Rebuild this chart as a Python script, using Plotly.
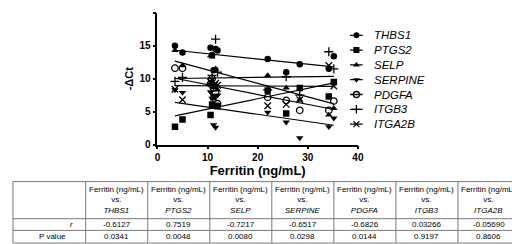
import plotly.graph_objects as go

genes = ["THBS1", "PTGS2", "SELP", "SERPINE", "PDGFA", "ITGB3", "ITGA2B"]
symbols = ["circle", "square", "triangle-up", "triangle-down", "circle-open", "cross-thin", "x-thin"]

ferritin = [3.5, 5.0, 10.6, 10.9, 11.2, 11.6, 12.0, 22.0, 25.7, 28.4, 34.2, 35.2]

thbs1 = [15.0, 14.0, 14.7, 13.6, 11.3, 14.5, 14.3, 13.0, 11.0, 12.2, 11.5, 13.4]
ptgs2 = [2.7, 3.8, 4.5, 6.1, 7.2, 5.9, 5.8, 8.2, 4.7, 8.6, 7.3, 9.5]
selp = [14.3, 12.0, 13.5, 13.3, 8.7, 11.5, 8.3, 10.5, 8.6, 6.8, 4.5, 5.5]
serpine = [8.3, 7.9, 8.0, 7.0, 3.0, 2.6, 7.5, 4.9, 3.4, 1.0, 2.7, 4.0]
pdgfa = [11.6, 11.6, 9.2, 10.0, 8.6, 8.0, 6.2, 7.2, 6.7, 5.2, 5.2, 6.6]
itgb3 = [9.6, 10.2, 9.0, 10.5, 9.4, 16.0, 11.0, 8.3, 10.3, 7.5, 14.1, 11.5]
itga2b = [8.4, 6.8, 9.5, 9.8, 8.9, 9.3, 9.0, 5.9, 6.1, 6.8, 12.0, 8.9]
series = [thbs1, ptgs2, selp, serpine, pdgfa, itgb3, itga2b]

# linear regression fits (intercept, slope)
fit_intercept = [14.6, 3.8, 13.4, 6.8, 10.6, 10.0, 8.95]
fit_slope = [-0.08, 0.158, -0.205, -0.11, -0.15, 0.01, -0.003]

row_labels = ["<i>r</i>", "P value"]
r_values = ["-0.6127", "0.7519", "-0.7217", "-0.6517", "-0.6826", "0.03266", "-0.05690"]
p_values = ["0.0341", "0.0048", "0.0080", "0.0298", "0.0144", "0.9197", "0.8606"]

W, H = 520, 244


def px(x):
    return x / W


def py(y):
    return 1 - y / H


def mline(sym):
    return dict(color="black", width=1.3 if ("thin" in sym or "open" in sym) else 0)


fig = go.Figure()
xmin, xmax = min(ferritin), max(ferritin)
for g, sym, ys, b0, b1 in zip(genes, symbols, series, fit_intercept, fit_slope):
    fig.add_trace(go.Scatter(
        x=[xmin, xmax], y=[b0 + b1 * xmin, b0 + b1 * xmax], mode="lines",
        showlegend=False, line=dict(color="black", width=1.2), hoverinfo="skip",
    ))
    fig.add_trace(go.Scatter(
        x=ferritin, y=ys, mode="markers", showlegend=False, name=g,
        marker=dict(symbol=sym, size=6.5, color="black", line=mline(sym)),
    ))

# manual legend on its own small axes (one row per gene)
for i, (g, sym) in enumerate(zip(genes, symbols)):
    fig.add_trace(go.Scatter(
        x=[0, 1], y=[i, i], mode="lines", xaxis="x2", yaxis="y2", showlegend=False,
        line=dict(color="black", width=1.3), hoverinfo="skip",
    ))
    fig.add_trace(go.Scatter(
        x=[0.5], y=[i], mode="markers", xaxis="x2", yaxis="y2", showlegend=False,
        marker=dict(symbol=sym, size=6, color="black", line=mline(sym)), hoverinfo="skip",
    ))

annotations = []
for i, g in enumerate(genes):
    annotations.append(dict(x=px(367), y=i, xref="paper", yref="y2", text="<i>%s</i>" % g,
                            showarrow=False, xanchor="left", yanchor="middle",
                            font=dict(family="Arial, Liberation Sans", size=11.5, color="black")))

# table drawn with lines and text
t_top, t_head, t_r, t_bot = 178, 216, 228, 241
col_edges = [2, 76] + [76 + 63.14 * (k + 1) for k in range(7)]
shapes = []
for yy in [t_top, t_head, t_r, t_bot]:
    shapes.append(dict(type="line", xref="paper", yref="paper", x0=px(col_edges[0]), x1=px(col_edges[-1]),
                       y0=py(yy), y1=py(yy), line=dict(color="#7a7a7a", width=1)))
for xx in col_edges:
    shapes.append(dict(type="line", xref="paper", yref="paper", x0=px(xx), x1=px(xx),
                       y0=py(t_top), y1=py(t_bot), line=dict(color="#7a7a7a", width=1)))

tfont = dict(family="Liberation Sans Narrow, Liberation Sans, Arial", size=8, color="black")
for k, g in enumerate(genes):
    cx = (col_edges[k + 1] + col_edges[k + 2]) / 2
    annotations.append(dict(x=px(cx), y=py((t_top + t_head) / 2), xref="paper", yref="paper",
                            text="Ferritin (ng/mL)<br>vs.<br><i>%s</i>" % g, showarrow=False,
                            align="center", xanchor="center", yanchor="middle", font=tfont))
    annotations.append(dict(x=px(cx), y=py((t_head + t_r) / 2), xref="paper", yref="paper",
                            text=r_values[k], showarrow=False, xanchor="center", yanchor="middle", font=tfont))
    annotations.append(dict(x=px(cx), y=py((t_r + t_bot) / 2), xref="paper", yref="paper",
                            text=p_values[k], showarrow=False, xanchor="center", yanchor="middle", font=tfont))
annotations.append(dict(x=px(62), y=py((t_head + t_r) / 2), xref="paper", yref="paper",
                        text=row_labels[0], showarrow=False, xanchor="center", yanchor="middle", font=tfont))
annotations.append(dict(x=px(42), y=py((t_r + t_bot) / 2), xref="paper", yref="paper",
                        text=row_labels[1], showarrow=False, xanchor="center", yanchor="middle",
                        font=dict(family="Arial, Liberation Sans", size=8, color="black")))

fig.update_layout(
    width=W, height=H, margin=dict(l=0, r=0, t=0, b=0),
    plot_bgcolor="white", paper_bgcolor="white", showlegend=False,
    font=dict(family="Arial, Liberation Sans", color="black"),
    xaxis=dict(domain=[px(149), px(353)], range=[0, 40], tickvals=[0, 10, 20, 30, 40],
               showline=True, linecolor="black", linewidth=1.5, ticks="outside", ticklen=3,
               tickwidth=1.5, tickcolor="black", showgrid=False, zeroline=False,
               tickfont=dict(size=10, weight="bold"),
               title=dict(text="<b>Ferritin (ng/mL)</b>", font=dict(size=13), standoff=0)),
    yaxis=dict(domain=[py(140), py(5)], range=[0, 20], tickvals=[0, 5, 10, 15, 20],
               showline=True, linecolor="black", linewidth=1.5, ticks="outside", ticklen=3,
               tickwidth=1.5, tickcolor="black", showgrid=False, zeroline=False,
               tickfont=dict(size=10, weight="bold"),
               title=dict(text="<b>-ΔCt</b>", font=dict(size=11), standoff=4)),
    xaxis2=dict(domain=[px(345), px(358)], range=[0, 1], visible=False, anchor="y2"),
    yaxis2=dict(domain=[py(28 + 15.17 * 6.5), py(28 - 15.17 * 0.5)], range=[6.5, -0.5],
                visible=False, anchor="x2"),
    shapes=shapes, annotations=annotations,
)

fig.write_html("out.html")
